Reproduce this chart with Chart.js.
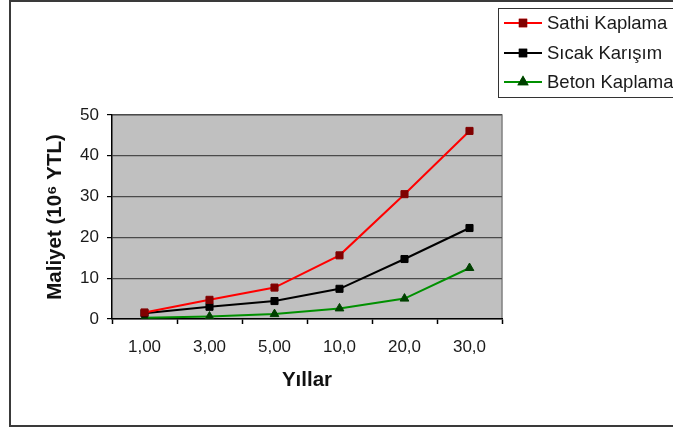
<!DOCTYPE html>
<html>
<head>
<meta charset="utf-8">
<script src="https://cdn.jsdelivr.net/npm/chart.js@4.4.1/dist/chart.umd.min.js"></script>
<style>
  html, body { margin: 0; padding: 0; background: #fff; }
  #wrap { width: 673px; height: 429px; position: relative; }
</style>
</head>
<body>
<div id="wrap"><canvas id="c"></canvas></div>
<script>
const years = ['1,00', '3,00', '5,00', '10,0', '20,0', '30,0'];
const sathi = [1.6, 4.7, 7.7, 15.6, 30.6, 46.1];
const sicak = [1.4, 3.0, 4.4, 7.4, 14.7, 22.3];
const beton = [0.3, 0.6, 1.2, 2.6, 5.0, 12.5];
const yTicks = [0, 10, 20, 30, 40, 50];

const FONT = "'Liberation Sans', Arial, sans-serif";

// plot background, outer frame and the legend box
const decor = {
    id: 'decor',
    beforeDraw(chart) {
        const { ctx, chartArea: a } = chart;
        ctx.save();
        ctx.fillStyle = '#c0c0c0';
        ctx.fillRect(a.left, a.top, a.right - a.left, a.bottom - a.top);
        ctx.strokeStyle = '#808080';
        ctx.lineWidth = 1.5;
        ctx.beginPath();
        ctx.moveTo(a.left, a.top);
        ctx.lineTo(a.right, a.top);
        ctx.lineTo(a.right, a.bottom);
        ctx.stroke();
        // outer frame
        ctx.strokeStyle = '#3a3a3a';
        ctx.lineWidth = 2;
        ctx.beginPath();
        ctx.moveTo(700, 1);
        ctx.lineTo(10, 1);
        ctx.lineTo(10, 426);
        ctx.lineTo(700, 426);
        ctx.stroke();
        ctx.restore();
    },
    afterDraw(chart) {
        const { ctx } = chart;
        ctx.save();
        ctx.fillStyle = '#fff';
        ctx.fillRect(498, 8, 200, 89);
        ctx.strokeStyle = '#333';
        ctx.lineWidth = 1;
        ctx.strokeRect(498.5, 8.5, 200, 89);
        const rows = [23, 53, 82];
        chart.data.datasets.forEach((ds, i) => {
            const y = rows[i];
            ctx.strokeStyle = ds.borderColor;
            ctx.lineWidth = 2;
            ctx.beginPath();
            ctx.moveTo(504, y);
            ctx.lineTo(542, y);
            ctx.stroke();
            Chart.helpers.drawPoint(ctx, {
                pointStyle: ds.pointStyle, radius: 4.5, borderWidth: 1,
                rotation: 0
            }, 523, y);
            ctx.fillStyle = ds.pointBackgroundColor;
            ctx.strokeStyle = ds.pointBorderColor;
            ctx.fill();
            ctx.stroke();
            ctx.fillStyle = '#1a1a1a';
            ctx.font = '18.5px ' + FONT;
            ctx.textBaseline = 'middle';
            ctx.fillText(ds.label, 547, y + 1);
        });
        ctx.restore();
    }
};

new Chart(document.getElementById('c'), {
    type: 'line',
    data: {
        labels: years,
        datasets: [
            { label: 'Sathi Kaplama', data: sathi, borderColor: '#ff0000',
              pointStyle: 'rect', pointBackgroundColor: '#800000', pointBorderColor: '#800000' },
            { label: 'Sıcak Karışım', data: sicak, borderColor: '#000000',
              pointStyle: 'rect', pointBackgroundColor: '#000000', pointBorderColor: '#000000' },
            { label: 'Beton Kaplama', data: beton, borderColor: '#009000',
              pointStyle: 'triangle', pointBackgroundColor: '#004000', pointBorderColor: '#004000' }
        ].map(ds => Object.assign(ds, {
            borderWidth: 2, tension: 0, fill: false,
            pointRadius: 5, pointBorderWidth: 1
        }))
    },
    options: {
        responsive: true,
        maintainAspectRatio: false,
        animation: false,
        layout: { padding: { left: 0, top: 115, right: 171, bottom: 0 } },
        plugins: { legend: { display: false }, tooltip: { enabled: false } },
        scales: {
            x: {
                offset: true,
                afterFit: s => { s.height = 110; },
                grid: { drawOnChartArea: false, offset: true, tickLength: 5, tickColor: '#000', tickWidth: 1.5 },
                border: { color: '#000', width: 1.5 },
                ticks: { color: '#1a1a1a', padding: 13, font: { family: FONT, size: 17 } },
                title: { display: true, text: 'Yıllar', color: '#111',
                         font: { family: FONT, size: 20.5, weight: 'bold' }, padding: { top: 0, bottom: 36 } }
            },
            y: {
                min: 0, max: 50,
                afterFit: s => { s.width = 112; },
                afterBuildTicks: s => { s.ticks = yTicks.map(v => ({ value: v })); },
                grid: { color: '#4a4a4a', lineWidth: 1.2, tickLength: 5, tickColor: '#000' },
                border: { color: '#000', width: 1.5 },
                ticks: { color: '#1a1a1a', padding: 8, font: { family: FONT, size: 17 } },
                title: { display: true, text: 'Maliyet (10⁶ YTL)', color: '#111',
                         font: { family: FONT, size: 20.5, weight: 'bold' }, padding: { top: 43, bottom: 0 } }
            }
        }
    },
    plugins: [decor]
});
</script>
</body>
</html>
